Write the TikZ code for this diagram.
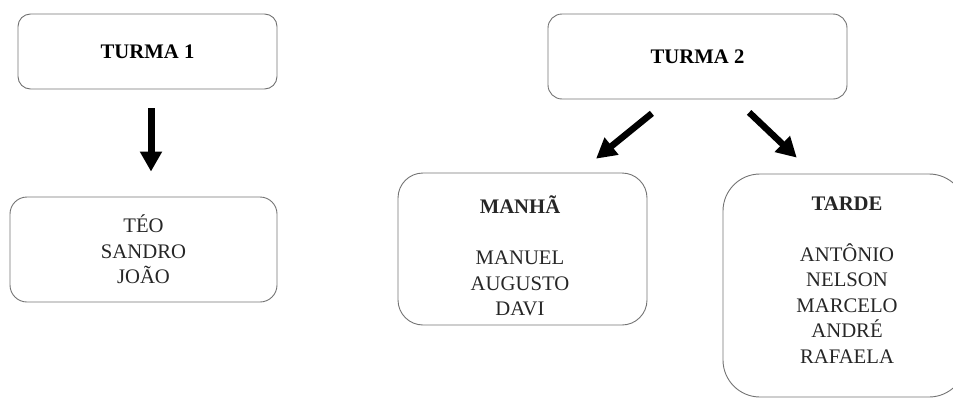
\documentclass[tikz,border=0pt]{standalone}
\usepackage{fontspec}
\setmainfont{Liberation Serif}
\usetikzlibrary{arrows.meta}

\tikzset{
    caixa/.style={draw=black!55, line width=0.9pt, rounded corners=#1},
    nomes/.style={align=center, text=black!85, font=\fontsize{20.7}{25.5}\selectfont},
    titulo/.style={text=black, font=\fontsize{20.7}{25.5}\selectfont\bfseries},
    seta/.style={line width=7pt, -{Triangle[length=20pt, width=21pt]}}
}

\begin{document}
\begin{tikzpicture}[x=1pt, y=-1pt]
        \useasboundingbox (0,0) rectangle (953,399);
        \clip (0,0) rectangle (953,399);
        % turma 1
        \node[caixa=12.5pt, titulo, minimum width=259pt, minimum height=75pt] (turma1) at (147.5, 51.5) {TURMA 1};
        \node[caixa=17pt, nomes, minimum width=267pt, minimum height=105pt] (teo) at (143.5, 249.5) {TÉO\\SANDRO\\JOÃO};
        \draw[seta, shorten <=19pt, shorten >=25pt] ([xshift=3.5pt]turma1.south) -- ([xshift=7.5pt]teo.north);
        % turma 2
        \node[caixa=14pt, titulo, minimum width=299pt, minimum height=85pt] (turma2) at (697.5, 56.5) {TURMA 2};
        \node[caixa=25pt, minimum width=249pt, minimum height=152pt] (manha) at (522.5, 249) {};
        \node[nomes] (manhanomes) at (520, 256) {\textbf{MANHÃ}\\[25.5pt]MANUEL\\AUGUSTO\\DAVI};
        \node[caixa=37pt, minimum width=243pt, minimum height=223pt] (tarde) at (844.5, 285.5) {};
        \node[nomes] (tardenomes) at (847, 280) {\textbf{TARDE}\\[25.5pt]ANTÔNIO\\NELSON\\MARCELO\\ANDRÉ\\RAFAELA};
        \draw[seta, line width=6.5pt, shorten <=22pt, shorten >=22pt] ([xshift=-28.5pt]turma2.south) -- ([xshift=56.5pt]manha.north);
        \draw[seta, line width=6.5pt, shorten <=18.8pt, shorten >=23.1pt] ([xshift=38pt]turma2.south) -- ([xshift=-31pt]tarde.north);
    \end{tikzpicture}
\end{document}
